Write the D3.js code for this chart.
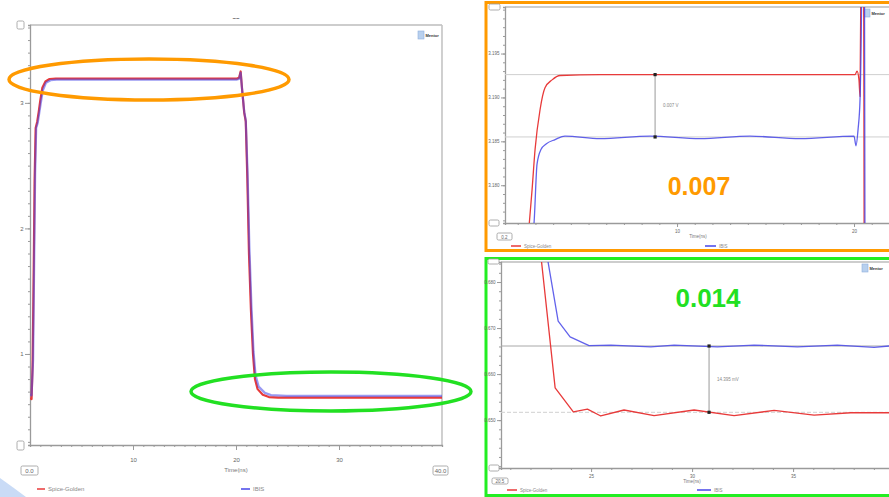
<!DOCTYPE html>
<html>
<head>
<meta charset="utf-8">
<script src="https://cdn.jsdelivr.net/npm/d3@7"></script>
<style>
  body { margin: 0; background: #fff; }
  svg { display: block; font-family: "Liberation Sans", Arial, sans-serif; }
  .axis path, .axis line { stroke: #9a9a9a; }
  .axis text { fill: #666; }
</style>
</head>
<body>
<svg id="chart" width="889" height="497"></svg>
<script>
// ---- data: waveforms (time in ns, volts) ----
const seriesNames = ["Spice-Golden", "IBIS"];

// full waveform, left chart
const mainTime_spice = [0, 0.15, 0.25, 0.35, 0.45, 0.55, 0.7, 0.85, 1.0, 1.2, 1.5, 1.9, 2.5, 20.1, 20.3, 20.45, 20.6, 20.8, 20.95, 21.1, 21.26, 21.45, 21.65, 21.84, 22.1, 22.6, 23.2, 24.1, 40];
const mainVolt_spice = [0.65, 0.64, 0.9, 1.6, 2.4, 2.8, 2.85, 2.93, 3.02, 3.12, 3.17, 3.19, 3.193, 3.193, 3.2, 3.25, 3.1, 2.92, 2.85, 2.4, 1.8, 1.35, 1.0, 0.8, 0.72, 0.675, 0.657, 0.652, 0.652];
const mainTime_ibis = [0, 0.15, 0.3, 0.4, 0.5, 0.6, 0.75, 0.9, 1.05, 1.25, 1.55, 2.0, 2.6, 20.1, 20.3, 20.45, 20.6, 20.8, 20.95, 21.12, 21.3, 21.5, 21.7, 21.9, 22.2, 22.8, 23.4, 24.9, 40];
const mainVolt_ibis = [0.68, 0.67, 0.95, 1.7, 2.45, 2.8, 2.84, 2.92, 3.0, 3.1, 3.16, 3.18, 3.1855, 3.1855, 3.19, 3.24, 3.1, 2.93, 2.86, 2.45, 1.85, 1.38, 1.02, 0.83, 0.74, 0.69, 0.672, 0.666, 0.666];

// zoom on the high level (orange)
const highTime_spice = [1.58, 1.81, 1.98, 2.26, 2.54, 2.94, 3.39, 5.65, 8.5, 11.3, 14.1, 16.95, 20.06, 20.17, 20.28, 20.34, 20.4, 20.5, 20.7, 21];
const highVolt_spice = [3.1739, 3.1795, 3.1841, 3.1886, 3.1911, 3.192, 3.1925, 3.1926, 3.1926, 3.1926, 3.1926, 3.1926, 3.1926, 3.193, 3.192, 3.1901, 3.207, 3.26, 3.0, 2.9];
const highTime_ibis = [1.8, 1.92, 2.09, 2.32, 2.6, 3.11, 3.67, 5.65, 8.47, 11.3, 14.12, 16.95, 20.0, 20.11, 20.23, 20.34, 20.45, 20.55, 20.75, 21];
const highVolt_ibis = [3.1739, 3.1757, 3.1824, 3.1841, 3.1847, 3.1852, 3.1856, 3.1853, 3.1856, 3.1853, 3.1856, 3.1853, 3.1856, 3.1845, 3.1864, 3.1898, 3.207, 3.25, 3.0, 2.9];

// zoom on the low level (green)
const lowTime_spice = [22.3, 22.51, 23.22, 24.12, 24.82, 25.48, 26.63, 28.12, 30.1, 32.08, 34.06, 36.04, 37.86, 39.75];
const lowVolt_spice = [0.6944, 0.6859, 0.657, 0.6518, 0.6524, 0.6509, 0.6522, 0.651, 0.6522, 0.651, 0.6521, 0.6511, 0.6516, 0.6516];
const lowTime_ibis = [22.6, 22.81, 23.37, 23.96, 24.9, 25.98, 27.96, 29.11, 31.25, 33.07, 35.21, 37.19, 39.01, 39.75];
const lowVolt_ibis = [0.6913, 0.6859, 0.6715, 0.6681, 0.6662, 0.6663, 0.6659, 0.6663, 0.6659, 0.6663, 0.6659, 0.6663, 0.6658, 0.6661];

// measurements
const highMarkTime = 8.76, highMarkVolts = [3.1926, 3.1855], highMarkText = "0.007 V", highCallout = "0.007";
const lowMarkTime = 30.84, lowMarkVolts = [0.6661, 0.6517], lowMarkText = "14.395 mV", lowCallout = "0.014";

// tick labels
const mainXTicks = [10, 20, 30], mainYTicks = [1, 2, 3];
const highXTicks = [10, 20], highYTicks = [3.18, 3.185, 3.19, 3.195];
const lowXTicks = [25, 30, 35], lowYTicks = [0.65, 0.66, 0.67, 0.68];

const RED = "#e83a3a", BLUE = "#4646e8";
const svg = d3.select("#chart");

// light blue slide swoosh, bottom-left
svg.append("path").attr("d", "M0,478 Q14,488 26,497 L0,497 Z").attr("fill", "#c9dbf6");

function zip(ts, vs) { return ts.map((t, i) => ({ t: t, v: vs[i] })); }

function drawPanel(p) {
  const x = d3.scaleLinear().domain(p.xDomain).range([p.x0, p.x1]);
  const y = d3.scaleLinear().domain(p.yDomain).range([p.y1, p.y0]);
  const g = svg.append("g");

  // frame top + right
  g.append("line").attr("x1", p.x0).attr("x2", p.x1).attr("y1", p.y0).attr("y2", p.y0)
    .attr("stroke", "#bdbdbd").attr("stroke-width", 1.4);
  if (p.rightFrame) {
    g.append("line").attr("x1", p.x1).attr("x2", p.x1).attr("y1", p.y0).attr("y2", p.y1)
      .attr("stroke", "#c4c4c4").attr("stroke-width", 1.6);
  }

  // y axis, minor then major
  g.append("g").attr("class", "axis").attr("transform", `translate(${p.x0},0)`)
    .call(d3.axisLeft(y).tickValues(p.yMinor).tickSize(2).tickFormat(""));
  const ya = g.append("g").attr("class", "axis").attr("transform", `translate(${p.x0},0)`)
    .call(d3.axisLeft(y).tickValues(p.yMajor).tickSize(p.majorTick).tickPadding(1.5).tickFormat(p.yFmt));
  ya.select(".domain").remove();
  ya.selectAll("text").attr("font-size", p.fs);

  // x axis
  g.append("g").attr("class", "axis").attr("transform", `translate(0,${p.y1})`)
    .call(d3.axisBottom(x).tickValues(p.xMinor).tickSize(2).tickFormat(""));
  const xa = g.append("g").attr("class", "axis").attr("transform", `translate(0,${p.y1})`)
    .call(d3.axisBottom(x).tickValues(p.xMajor).tickSize(p.majorTick).tickPadding(p.xPad).tickFormat(d3.format("d")));
  xa.select(".domain").remove();
  xa.selectAll("text").attr("font-size", p.fs);

  g.selectAll(".axis path").attr("stroke-width", 1.3);

  // corner boxes
  p.boxes.forEach(b => {
    g.append("rect").attr("x", b[0]).attr("y", b[1]).attr("width", b[2]).attr("height", b[3])
      .attr("rx", 1.5).attr("fill", "#fff").attr("stroke", "#999").attr("stroke-width", 0.8);
    if (b[4]) g.append("text").attr("x", b[0] + b[2] / 2).attr("y", b[1] + b[3] / 2 + 2)
      .attr("text-anchor", "middle").attr("font-size", p.fs).attr("fill", "#666").text(b[4]);
  });

  g.append("text").attr("x", p.timeLabel[0]).attr("y", p.timeLabel[1]).attr("text-anchor", "middle")
    .attr("font-size", p.fs).attr("fill", "#777").text("Time(ns)");

  // logo
  g.append("rect").attr("x", p.logo[0]).attr("y", p.logo[1]).attr("width", 6).attr("height", 8)
    .attr("fill", "#b8d0ee").attr("stroke", "#8fb0dc").attr("stroke-width", 0.6);
  g.append("text").attr("x", p.logo[0] + 7.5).attr("y", p.logo[1] + 6).attr("font-size", 4)
    .attr("font-weight", "bold").attr("fill", "#333").text("Mentor");

  // reference lines
  (p.refs || []).forEach(r => {
    g.append("line").attr("x1", p.x0).attr("x2", p.x1).attr("y1", y(r.v)).attr("y2", y(r.v))
      .attr("stroke", r.color).attr("stroke-width", 1).attr("stroke-dasharray", r.dash || null);
  });

  // clipped series
  svg.append("clipPath").attr("id", "clip-" + p.id).append("rect")
    .attr("x", p.x0).attr("y", p.y0).attr("width", p.x1 - p.x0).attr("height", p.y1 - p.y0);
  const line = d3.line().x(d => x(d.t)).y(d => y(d.v)).curve(p.curve);
  const lg = g.append("g").attr("clip-path", `url(#clip-${p.id})`);
  p.series.forEach(s => {
    lg.append("path").datum(s.data).attr("d", line).attr("fill", "none")
      .attr("stroke", s.color).attr("stroke-width", p.lineW).attr("stroke-opacity", s.opacity || 1)
      .attr("stroke-linejoin", "round");
  });

  // measurement marker
  if (p.mark) {
    const mx = x(p.mark.t), ya0 = y(p.mark.v[0]), ya1 = y(p.mark.v[1]);
    g.append("line").attr("x1", mx).attr("x2", mx).attr("y1", ya0).attr("y2", ya1)
      .attr("stroke", "#9a9a9a").attr("stroke-width", 1);
    [ya0, ya1].forEach(yy => g.append("rect").attr("x", mx - 1.6).attr("y", yy - 1.6)
      .attr("width", 3.2).attr("height", 3.2).attr("fill", "#222"));
    g.append("text").attr("x", mx + 8).attr("y", (ya0 + ya1) / 2 + 1.5).attr("font-size", 4.5)
      .attr("fill", "#888").text(p.mark.text);
  }

  // legend
  p.legend.forEach((l, i) => {
    g.append("line").attr("x1", l[0]).attr("x2", l[0] + l[2]).attr("y1", p.legendY).attr("y2", p.legendY)
      .attr("stroke", i === 0 ? RED : BLUE).attr("stroke-width", 1.5);
    g.append("text").attr("x", l[0] + l[2] + 3).attr("y", p.legendY + 1.8).attr("font-size", p.fs)
      .attr("fill", "#888").text(seriesNames[i]);
  });
  return { x: x, y: y };
}

// ---- left: full waveform ----
drawPanel({
  id: "main", x0: 30, x1: 442, y0: 25, y1: 445,
  xDomain: [0, 40], yDomain: [0.275, 3.62],
  xMinor: d3.range(0, 41), xMajor: mainXTicks, xPad: 8,
  yMinor: d3.range(3, 37).map(d => d / 10), yMajor: mainYTicks, yFmt: d3.format("d"),
  majorTick: 5, fs: 6, lineW: 2.2, curve: d3.curveLinear, rightFrame: true,
  boxes: [[17, 21, 7, 8], [17, 441, 7, 9], [21, 466, 17, 9, "0.0"], [433, 466, 15, 9, "40.0"]],
  timeLabel: [236, 472], logo: [418, 31], legendY: 489,
  legend: [[37, 0, 8], [241, 0, 9]],
  series: [
    { data: zip(mainTime_spice, mainVolt_spice), color: RED },
    { data: zip(mainTime_ibis, mainVolt_ibis), color: BLUE, opacity: 0.55 }
  ]
});
svg.append("text").attr("x", 236).attr("y", 20).attr("text-anchor", "middle")
  .attr("font-size", 6).attr("fill", "#222").text("~~");

// highlight ellipses
svg.append("ellipse").attr("cx", 149).attr("cy", 79.5).attr("rx", 140).attr("ry", 20.5)
  .attr("fill", "none").attr("stroke", "#ff9a00").attr("stroke-width", 3.5);
svg.append("ellipse").attr("cx", 331).attr("cy", 391.5).attr("rx", 140).attr("ry", 19.5)
  .attr("fill", "none").attr("stroke", "#22e022").attr("stroke-width", 3.5);

// ---- top right: high level zoom ----
svg.append("rect").attr("x", 486).attr("y", 2.5).attr("width", 410).attr("height", 248)
  .attr("fill", "#fff").attr("stroke", "#ff9a00").attr("stroke-width", 3);
drawPanel({
  id: "high", x0: 505, x1: 905, y0: 7, y1: 223,
  xDomain: [0.28, 22.88], yDomain: [3.1757, 3.2003],
  xMinor: d3.range(1, 23), xMajor: highXTicks, xPad: 3,
  yMinor: d3.range(3176, 3201).map(d => d / 1000), yMajor: highYTicks, yFmt: d3.format(".3f"),
  majorTick: 4, fs: 4.5, lineW: 1.3, curve: d3.curveMonotoneX, rightFrame: false,
  boxes: [[489, 4, 11, 6], [489, 220, 10, 6], [497, 233, 15, 7, "0.2"]],
  timeLabel: [698, 238], logo: [864, 9], legendY: 246,
  legend: [[511, 0, 10], [705, 0, 11]],
  refs: [{ v: highMarkVolts[0], color: "#cfcfcf" }, { v: highMarkVolts[1], color: "#cfcfcf" }],
  mark: { t: highMarkTime, v: highMarkVolts, text: highMarkText },
  series: [
    { data: zip(highTime_spice, highVolt_spice), color: RED },
    { data: zip(highTime_ibis, highVolt_ibis), color: BLUE, opacity: 0.85 }
  ]
});
svg.append("text").attr("x", 699).attr("y", 195).attr("text-anchor", "middle")
  .attr("font-size", 25).attr("font-weight", "bold").attr("fill", "#ff9a00").text(highCallout);

// ---- bottom right: low level zoom ----
svg.append("rect").attr("x", 486).attr("y", 258.5).attr("width", 410).attr("height", 237)
  .attr("fill", "#fff").attr("stroke", "#22ee22").attr("stroke-width", 3);
drawPanel({
  id: "low", x0: 501, x1: 905, y0: 262, y1: 468,
  xDomain: [20.54, 40.54], yDomain: [0.6396, 0.68435],
  xMinor: d3.range(21, 41), xMajor: lowXTicks, xPad: 3,
  yMinor: d3.range(320, 343).map(d => d / 500), yMajor: lowYTicks, yFmt: d3.format(".3f"),
  majorTick: 4, fs: 4.5, lineW: 1.3, curve: d3.curveLinear, rightFrame: false,
  boxes: [[488, 259, 11, 5], [489, 465, 10, 6], [492, 478, 16, 6, "20.5"]],
  timeLabel: [692, 483], logo: [862, 264], legendY: 490,
  legend: [[507, 0, 10], [697, 0, 14]],
  refs: [{ v: lowMarkVolts[0], color: "#a8a8a8" }, { v: lowMarkVolts[1], color: "#d0d0d0", dash: "4,2" }],
  mark: { t: lowMarkTime, v: lowMarkVolts, text: lowMarkText },
  series: [
    { data: zip(lowTime_spice, lowVolt_spice), color: RED },
    { data: zip(lowTime_ibis, lowVolt_ibis), color: BLUE, opacity: 0.85 }
  ]
});
svg.append("text").attr("x", 708).attr("y", 307).attr("text-anchor", "middle")
  .attr("font-size", 26).attr("font-weight", "bold").attr("fill", "#22e022").text(lowCallout);
</script>
</body>
</html>
